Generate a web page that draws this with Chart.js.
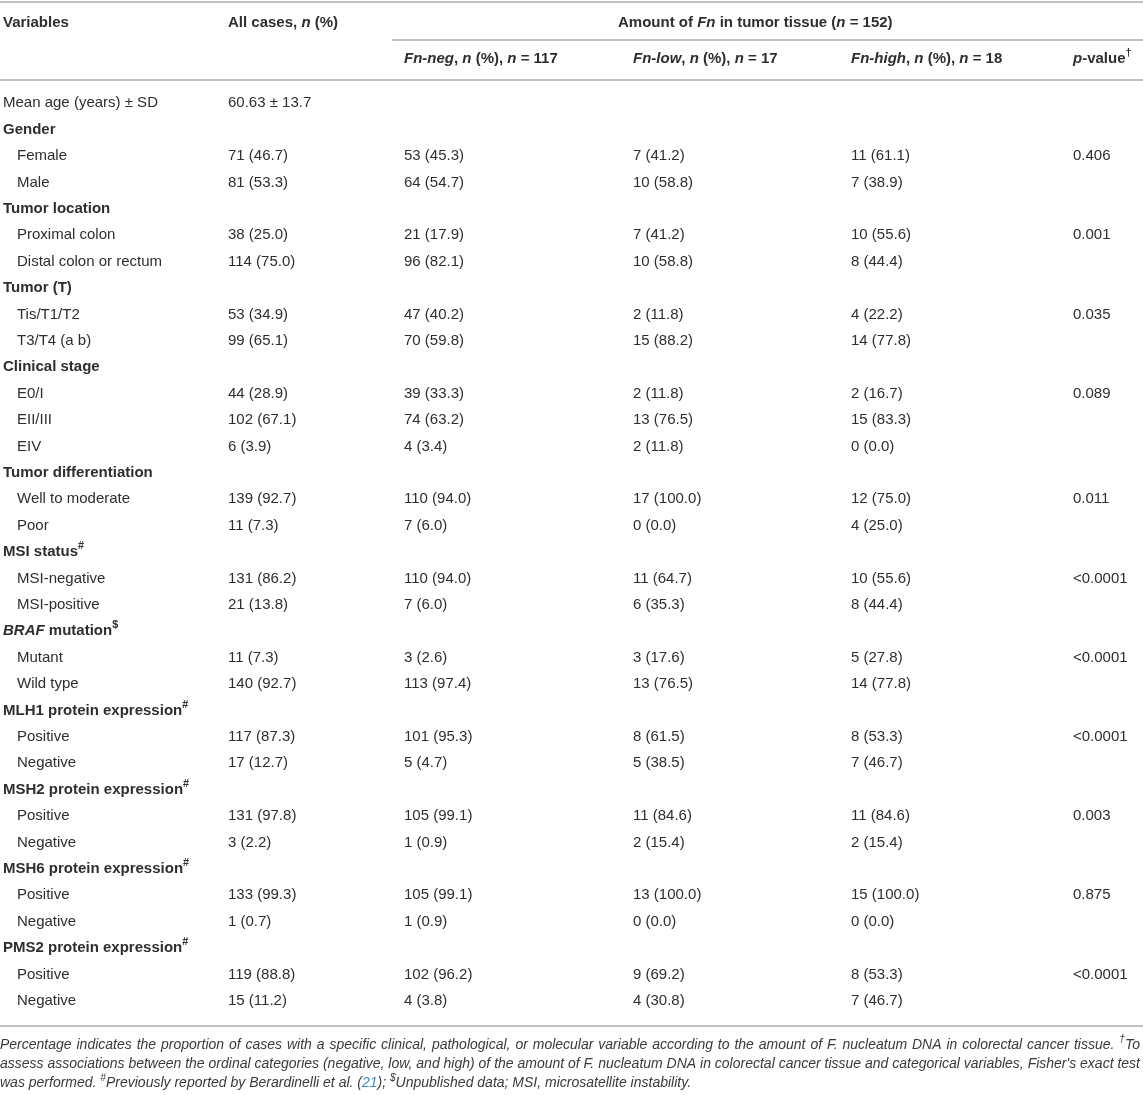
<!DOCTYPE html>
<html>
<head>
<meta charset="utf-8">
<title>Fn in tumor tissue</title>
<script src="https://cdn.jsdelivr.net/npm/chart.js@4/dist/chart.umd.min.js"></script>
<style>
  html, body { margin: 0; padding: 0; background: #fff; }
  canvas { display: block; }
</style>
</head>
<body>
<canvas id="table" width="1143" height="1095"></canvas>
<script>
// Table data. Markup: *..* italic, ^x superscript, {..} link colour
const variables = [
    "Mean age (years) ± SD",
    "Gender", "Female", "Male",
    "Tumor location", "Proximal colon", "Distal colon or rectum",
    "Tumor (T)", "Tis/T1/T2", "T3/T4 (a b)",
    "Clinical stage", "E0/I", "EII/III", "EIV",
    "Tumor differentiation", "Well to moderate", "Poor",
    "MSI status^#", "MSI-negative", "MSI-positive",
    "*BRAF* mutation^$", "Mutant", "Wild type",
    "MLH1 protein expression^#", "Positive", "Negative",
    "MSH2 protein expression^#", "Positive", "Negative",
    "MSH6 protein expression^#", "Positive", "Negative",
    "PMS2 protein expression^#", "Positive", "Negative"
];
const allCases = [
    "60.63 ± 13.7",
    "", "71 (46.7)", "81 (53.3)",
    "", "38 (25.0)", "114 (75.0)",
    "", "53 (34.9)", "99 (65.1)",
    "", "44 (28.9)", "102 (67.1)", "6 (3.9)",
    "", "139 (92.7)", "11 (7.3)",
    "", "131 (86.2)", "21 (13.8)",
    "", "11 (7.3)", "140 (92.7)",
    "", "117 (87.3)", "17 (12.7)",
    "", "131 (97.8)", "3 (2.2)",
    "", "133 (99.3)", "1 (0.7)",
    "", "119 (88.8)", "15 (11.2)"
];
const fnNeg = [
    "",
    "", "53 (45.3)", "64 (54.7)",
    "", "21 (17.9)", "96 (82.1)",
    "", "47 (40.2)", "70 (59.8)",
    "", "39 (33.3)", "74 (63.2)", "4 (3.4)",
    "", "110 (94.0)", "7 (6.0)",
    "", "110 (94.0)", "7 (6.0)",
    "", "3 (2.6)", "113 (97.4)",
    "", "101 (95.3)", "5 (4.7)",
    "", "105 (99.1)", "1 (0.9)",
    "", "105 (99.1)", "1 (0.9)",
    "", "102 (96.2)", "4 (3.8)"
];
const fnLow = [
    "",
    "", "7 (41.2)", "10 (58.8)",
    "", "7 (41.2)", "10 (58.8)",
    "", "2 (11.8)", "15 (88.2)",
    "", "2 (11.8)", "13 (76.5)", "2 (11.8)",
    "", "17 (100.0)", "0 (0.0)",
    "", "11 (64.7)", "6 (35.3)",
    "", "3 (17.6)", "13 (76.5)",
    "", "8 (61.5)", "5 (38.5)",
    "", "11 (84.6)", "2 (15.4)",
    "", "13 (100.0)", "0 (0.0)",
    "", "9 (69.2)", "4 (30.8)"
];
const fnHigh = [
    "",
    "", "11 (61.1)", "7 (38.9)",
    "", "10 (55.6)", "8 (44.4)",
    "", "4 (22.2)", "14 (77.8)",
    "", "2 (16.7)", "15 (83.3)", "0 (0.0)",
    "", "12 (75.0)", "4 (25.0)",
    "", "10 (55.6)", "8 (44.4)",
    "", "5 (27.8)", "14 (77.8)",
    "", "8 (53.3)", "7 (46.7)",
    "", "11 (84.6)", "2 (15.4)",
    "", "15 (100.0)", "0 (0.0)",
    "", "8 (53.3)", "7 (46.7)"
];
const pValues = [
    "",
    "", "0.406", "",
    "", "0.001", "",
    "", "0.035", "",
    "", "0.089", "", "",
    "", "0.011", "",
    "", "<0.0001", "",
    "", "<0.0001", "",
    "", "<0.0001", "",
    "", "0.003", "",
    "", "0.875", "",
    "", "<0.0001", ""
];
const topHeaders = ["Variables", "All cases, *n* (%)", "Amount of *Fn* in tumor tissue (*n* = 152)"];
const subHeaders = ["", "", "*Fn-neg*, *n* (%), *n* = 117", "*Fn-low*, *n* (%), *n* = 17", "*Fn-high*, *n* (%), *n* = 18", "*p*-value^†"];
const footnotes = [
    "Percentage indicates the proportion of cases with a specific clinical, pathological, or molecular variable according to the amount of F. nucleatum DNA in colorectal cancer tissue. ^†To",
    "assess associations between the ordinal categories (negative, low, and high) of the amount of F. nucleatum DNA in colorectal cancer tissue and categorical variables, Fisher's exact test",
    "was performed. ^#Previously reported by Berardinelli et al. ({21}); ^$Unpublished data; MSI, microsatellite instability."
];

// layout (pixels on the x scale)
const colX = [3, 228, 404, 633, 851, 1073];
const indent = 14;
const amountX = 618;
const textColor = "#2e2e2e";
const ruleColor = "#c0c0c0";
const FONT = '"Liberation Sans", Arial, Helvetica, sans-serif';
const bodySize = 15;
const noteSize = 14;

const columns = [variables, allCases, fnNeg, fnLow, fnHigh, pValues];

function parseRich(str) {
    const runs = [];
    let cur = { text: "", italic: false, sup: false, link: false };
    const push = () => { if (cur.text) runs.push(cur); cur = { text: "", italic: cur.italic, sup: false, link: cur.link }; };
    for (let i = 0; i < str.length; i++) {
        const c = str[i];
        if (c === "*") { push(); cur.italic = !cur.italic; }
        else if (c === "{" || c === "}") { push(); cur.link = c === "{"; }
        else if (c === "^") {
            push();
            runs.push({ text: str[i + 1], italic: cur.italic, sup: true, link: cur.link });
            i++;
        } else cur.text += c;
    }
    push();
    return runs;
}

function fontFor(run, o) {
    const size = run.sup ? o.size * 0.72 : o.size;
    return ((run.italic || o.italic) ? "italic " : "") + (o.bold ? "bold " : "") + size + "px " + FONT;
}

function drawRich(ctx, str, x, y, o) {
    const runs = parseRich(str);
    let extra = 0;
    if (o.justify) {
        let w = 0, spaces = 0;
        runs.forEach(r => {
            ctx.font = fontFor(r, o);
            w += ctx.measureText(r.text).width;
            spaces += (r.text.match(/ /g) || []).length;
        });
        if (spaces) extra = (o.justify - w) / spaces;
    }
    let cx = x;
    runs.forEach(r => {
        ctx.font = fontFor(r, o);
        ctx.fillStyle = r.link ? "#3b8ad9" : (o.color || textColor);
        const yy = r.sup ? y - o.size * 0.38 : y;
        const parts = r.text.split(" ");
        parts.forEach((p, k) => {
            ctx.fillText(p, cx, yy);
            cx += ctx.measureText(p).width;
            if (k < parts.length - 1) cx += ctx.measureText(" ").width + extra;
        });
    });
}

function hline(ctx, x1, x2, y) {
    ctx.beginPath();
    ctx.moveTo(x1, y);
    ctx.lineTo(x2, y);
    ctx.stroke();
}

const tablePlugin = {
    id: "tableText",
    afterDatasetsDraw(chart) {
        const ctx = chart.ctx;
        const area = chart.chartArea;
        const xs = chart.scales.x;
        const W = chart.width;
        ctx.save();
        ctx.textBaseline = "middle";
        ctx.textAlign = "left";

        // rules
        ctx.strokeStyle = ruleColor;
        ctx.lineWidth = 2;
        hline(ctx, 0, W, 2);
        hline(ctx, xs.getPixelForValue(colX[2]) - 12, W, area.top - 50);
        hline(ctx, 0, W, area.top - 10);
        hline(ctx, 0, W, area.bottom + 12);

        // header
        const hy = area.top - 67;
        drawRich(ctx, topHeaders[0], xs.getPixelForValue(colX[0]), hy, { size: bodySize, bold: true });
        drawRich(ctx, topHeaders[1], xs.getPixelForValue(colX[1]), hy, { size: bodySize, bold: true });
        drawRich(ctx, topHeaders[2], xs.getPixelForValue(amountX), hy, { size: bodySize, bold: true });
        subHeaders.forEach((h, k) => {
            if (h) drawRich(ctx, h, xs.getPixelForValue(colX[k]), area.top - 31, { size: bodySize, bold: true });
        });

        // cells, placed at each point element
        chart.data.datasets.forEach((ds, k) => {
            const meta = chart.getDatasetMeta(k);
            meta.data.forEach((pt, i) => {
                const txt = columns[k][i];
                if (!txt) return;
                const bold = k === 0 && allCases[i] === "";
                const x = k === 0 && fnNeg[i] !== "" ? pt.x + indent : pt.x;
                drawRich(ctx, txt, x, pt.y, { size: bodySize, bold: bold });
            });
        });

        // footnotes
        footnotes.forEach((f, j) => {
            drawRich(ctx, f, 0, area.bottom + 31 + j * 19.3, {
                size: noteSize, italic: true, color: "#3a3a3a",
                justify: j < footnotes.length - 1 ? W - 3 : 0
            });
        });
        ctx.restore();
    }
};

new Chart(document.getElementById("table"), {
    type: "scatter",
    data: {
        datasets: columns.map((col, k) => ({
            label: "col" + k,
            data: col.map((v, i) => ({ x: colX[k], y: i })),
            pointRadius: 0,
            pointHoverRadius: 0
        }))
    },
    options: {
        responsive: false,
        animation: false,
        events: [],
        layout: { padding: { top: 90, bottom: 81, left: 0, right: 0 } },
        plugins: { legend: { display: false }, tooltip: { enabled: false } },
        scales: {
            x: { type: "linear", min: 0, max: 1143, display: false },
            y: { type: "category", labels: variables, offset: true, display: false }
        }
    },
    plugins: [tablePlugin]
});
</script>
</body>
</html>
